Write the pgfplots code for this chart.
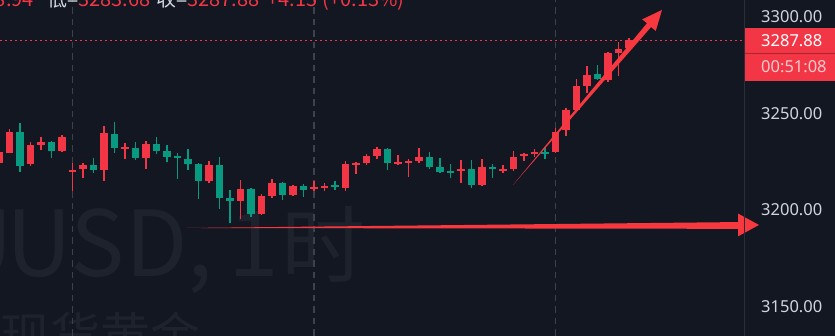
\documentclass[border=0pt]{standalone}
\usepackage{pgfplots}
\pgfplotsset{compat=1.18}
\usepackage{pgfplotstable}
\usepackage{fontspec}
\setmainfont{Noto Sans}
\newfontfamily\cjk{Noto Sans CJK SC}
\definecolor{bg}{HTML}{131722}
\definecolor{upred}{HTML}{F23645}
\definecolor{downgreen}{HTML}{089981}
\definecolor{arrowred}{HTML}{F7383F}
\definecolor{lbl}{HTML}{D1D4DC}
\definecolor{gridc}{HTML}{3D414D}
\definecolor{wm}{HTML}{1E222D}
\definecolor{sepc}{HTML}{2A2E39}
\definecolor{cdown}{HTML}{FBC9CD}

% k open high low close  (red = rising candles)
\pgfplotstableread{
k o h l c
0 3224.2 3231.0 3222.0 3229.9
1 3229.7 3241.8 3229.4 3240.2
3 3223.8 3235.0 3223.0 3233.5
4 3233.8 3238.0 3231.1 3235.4
6 3230.7 3238.8 3230.0 3237.6
7 3219.9 3224.5 3209.9 3220.9
8 3221.1 3224.2 3216.8 3223.5
10 3220.7 3243.5 3215.2 3239.7
12 3231.5 3234.5 3226.6 3232.1
14 3227.1 3235.7 3221.3 3234.2
20 3215.1 3225.6 3213.9 3223.2
23 3204.7 3215.4 3195.2 3210.8
25 3198.0 3208.2 3197.6 3207.3
26 3207.3 3216.1 3206.0 3213.9
28 3207.8 3213.0 3207.3 3212.5
30 3211.1 3215.0 3209.9 3211.9
31 3211.6 3214.2 3210.0 3212.6
33 3211.6 3225.6 3209.9 3223.7
34 3223.5 3224.9 3218.7 3224.5
35 3224.2 3229.0 3223.2 3228.1
36 3228.1 3232.5 3226.6 3231.7
38 3224.0 3228.3 3223.2 3225.0
39 3224.5 3226.4 3217.3 3225.4
40 3225.4 3232.0 3224.2 3227.3
44 3220.1 3225.9 3214.2 3221.1
46 3213.0 3226.6 3212.5 3222.5
48 3220.2 3223.3 3219.3 3221.2
49 3221.1 3230.7 3220.4 3227.6
50 3228.0 3229.7 3225.6 3229.0
51 3228.8 3231.4 3227.6 3229.7
53 3230.2 3242.3 3229.7 3240.5
54 3241.4 3252.6 3238.3 3251.8
55 3251.8 3267.6 3251.0 3264.2
56 3264.3 3274.5 3260.4 3269.8
58 3267.3 3281.7 3266.4 3281.4
59 3281.4 3287.1 3269.3 3283.3
60 3283.75 3288.9 3283.68 3287.88
}\upc

% falling candles (green)
\pgfplotstableread{
k o h l c
2 3240.2 3245.2 3219.6 3223.0
5 3235.4 3235.8 3227.1 3230.7
9 3223.5 3226.8 3219.0 3220.7
11 3239.4 3245.4 3229.4 3232.0
13 3232.0 3235.2 3225.9 3227.1
15 3234.2 3238.0 3228.9 3230.7
16 3230.4 3233.5 3224.7 3227.6
17 3227.8 3229.7 3216.1 3226.8
18 3226.6 3231.4 3220.7 3223.7
19 3223.8 3224.3 3205.9 3215.2
21 3223.2 3227.5 3200.6 3206.4
22 3206.4 3210.4 3193.5 3204.7
24 3210.8 3211.2 3196.3 3198.0
27 3214.2 3214.7 3205.2 3207.8
29 3212.6 3213.5 3206.9 3210.2
32 3212.8 3215.0 3210.4 3211.8
37 3231.6 3232.0 3220.7 3224.5
41 3227.3 3229.9 3221.1 3222.5
42 3222.1 3226.8 3219.3 3219.9
43 3220.1 3223.8 3216.6 3219.2
45 3221.1 3225.9 3211.6 3213.0
47 3222.5 3223.8 3216.8 3221.4
52 3230.0 3232.5 3226.6 3229.2
57 3270.2 3275.0 3267.3 3267.6
}\downc

\begin{document}
\begin{tikzpicture}[x=1pt,y=1pt]
\clip (0,0) rectangle (835,336);
\fill[bg] (0,0) rectangle (835,336);
% watermark
\node[anchor=base west, inner sep=0, text=wm, font=\cjk\fontsize{91}{91}\selectfont] at (6,59) {USD,\hspace{16pt}1\hspace{2pt}\fontsize{84}{84}\selectfont 时};
\node[anchor=base east, inner sep=0, text=wm, font=\cjk\fontsize{91}{91}\selectfont] at (13,59) {XAU};
\node[anchor=base west, inner sep=0, text=wm, font=\cjk\fontsize{50}{50}\selectfont] at (0,-19) {现货黄金};

\begin{axis}[
  at={(0,0)}, anchor=south west, scale only axis,
  width=744pt, height=336pt,
  xmin=0.0952, xmax=70.952, ymin=3134.9, ymax=3308.6,
  clip=false,
  axis line style={draw=none}, tick style={draw=none},
  major tick length=0pt,
  xtick={7,30,53}, xticklabels={},
  xmajorgrids,
  major grid style={draw=gridc, line width=1.3pt, dash pattern=on 6.5pt off 5pt},
  ytick={3150,3200,3250,3300},
  yticklabels={3150.00,3200.00,3250.00,3300.00},
  yticklabel pos=right,
  yticklabel style={anchor=west, inner sep=0pt, xshift=17pt, text=lbl, font=\fontsize{16.5}{18}\selectfont},
]
% wicks
\addplot[draw=none, no markers, forget plot,
  error bars/.cd, y dir=plus, y explicit, error mark=none,
  error bar style={draw=upred, line width=1.3pt}]
  table[x=k, y=l, y error plus expr=\thisrow{h}-\thisrow{l}] {\upc};
\addplot[draw=none, no markers, forget plot,
  error bars/.cd, y dir=plus, y explicit, error mark=none,
  error bar style={draw=downgreen, line width=1.3pt}]
  table[x=k, y=l, y error plus expr=\thisrow{h}-\thisrow{l}] {\downc};
% bodies
\addplot[draw=none, no markers, forget plot,
  error bars/.cd, y dir=plus, y explicit, error mark=none,
  error bar style={draw=upred, line width=7.4pt}]
  table[x=k, y=o, y error plus expr={max(\thisrow{c}-\thisrow{o},1.0)}] {\upc};
\addplot[draw=none, no markers, forget plot,
  error bars/.cd, y dir=plus, y explicit, error mark=none,
  error bar style={draw=downgreen, line width=7.4pt}]
  table[x=k, y=c, y error plus expr={max(\thisrow{o}-\thisrow{c},1.0)}] {\downc};
% last price line
\addplot[draw=upred, line width=1pt, dash pattern=on 2pt off 3pt] coordinates {(0.0952,3287.88) (70.952,3287.88)};
% hand-drawn arrows
\fill[arrowred] (axis cs:17.905,3190.74) -- (axis cs:70.381,3193.80) -- (axis cs:70.381,3198.2)
   -- (axis cs:72.381,3192.30) -- (axis cs:70.381,3186.4) -- (axis cs:70.381,3190.30) -- cycle;
\fill[arrowred] (axis cs:48.952,3212.98) -- (axis cs:62.10,3294.6) -- (axis cs:62.55,3292.6)
   -- (axis cs:63.143,3303.46) -- (axis cs:61.26,3298.6) -- (axis cs:61.71,3296.6) -- cycle;
\end{axis}

% price scale separator
\draw[sepc, line width=1pt] (744,0) -- (744,336);
% last price boxes
\fill[upred] (745,255.3) rectangle (835,308.3);
\draw[black!30!upred, line width=0.6pt] (745,282.7) -- (835,282.7);
\node[anchor=west, inner sep=0, text=white, font=\fontsize{16.5}{18}\selectfont\bfseries] at (761,295.5) {3287.88};
\node[anchor=west, inner sep=0, text=cdown, font=\fontsize{16.5}{18}\selectfont] at (761,269) {00:51:08};
% header (cut at top)
\node[anchor=base east, inner sep=0, text=upred, font=\cjk\fontsize{20}{20}\selectfont] at (34,329.3) {3288.94};
\node[anchor=base west, inner sep=0, text=lbl, font=\cjk\fontsize{20}{20}\selectfont] at (47,329.3)
  {低=\textcolor{upred}{3283.68}\hspace{6pt}收=\textcolor{upred}{3287.88}\hspace{8pt}\textcolor{upred}{+4.15\hspace{5pt}(+0.13\%)}};
\end{tikzpicture}
\end{document}
